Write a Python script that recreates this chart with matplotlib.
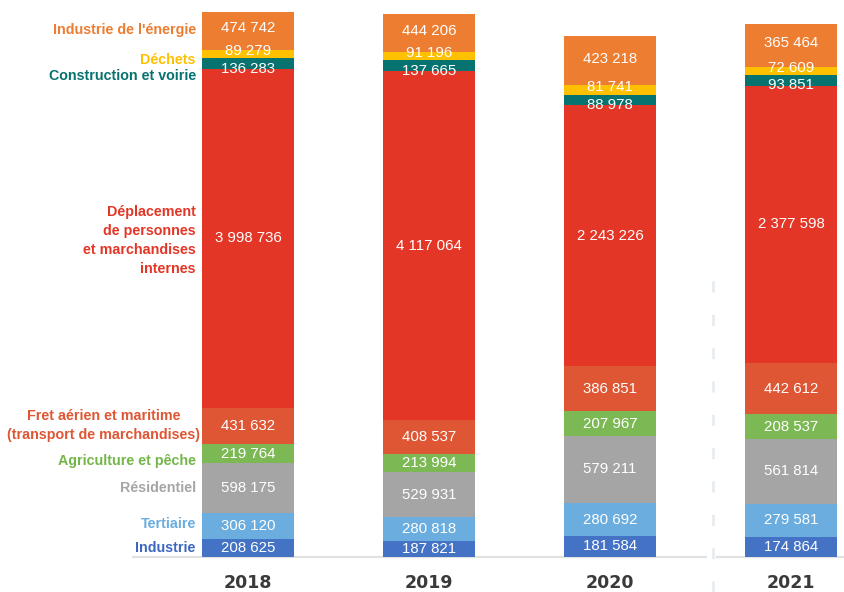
# Stacked bars: emissions by sector, 2018-2021
import numpy as np
import matplotlib.pyplot as plt
from matplotlib.lines import Line2D

# Data (bottom to top of each bar)
years = ['2018', '2019', '2020', '2021']
categories = ['Industrie', 'Tertiaire', 'Résidentiel', 'Agriculture et pêche',
              'Fret aérien et maritime\n(transport de marchandises)',
              'Déplacement\nde personnes\net marchandises\ninternes',
              'Construction et voirie', 'Déchets', "Industrie de l'énergie"]
industrie = [208625, 187821, 181584, 174864]
tertiaire = [306120, 280818, 280692, 279581]
residentiel = [598175, 529931, 579211, 561814]
agriculture = [219764, 213994, 207967, 208537]
fret = [431632, 408537, 386851, 442612]
deplacement = [3998736, 4117064, 2243226, 2377598]
construction = [136283, 137665, 88978, 93851]
dechets = [89279, 91196, 81741, 72609]
energie = [474742, 444206, 423218, 365464]

series = [industrie, tertiaire, residentiel, agriculture, fret,
          deplacement, construction, dechets, energie]
colors = ['#4472C4', '#6AADDE', '#A5A5A5', '#7CB954', '#DE5633',
          '#E33626', '#077370', '#FFC000', '#ED7D31']
text_colors = ['#3D67C0', '#6AADDE', '#A5A5A5', '#74B64A', '#DE5633',
               '#E33626', '#077370', '#FFC000', '#ED7D31']
# small vertical nudges (pixels) so texts don't collide in thin segments
value_dy = [0, 0, 0, 0, 0, 0, -5, 3, 2]
cat_dy = [0, 2, 0, -7, 0, -2, -12, -6, 0]


def fmt(v):
    return f"{v:,}".replace(',', ' ')


W, H = 845, 592
fig = plt.figure(figsize=(W / 100, H / 100), dpi=100)
ax = fig.add_axes([133 / W, 35 / H, 712 / W, 545 / H])
ax2 = ax.twinx()   # 2020-2021 drawn on their own scale, as in the original
x = np.arange(len(years))
bar_w = 0.51
xmin, xmax = -0.635, 3.298

for axis, idx, ytop in [(ax, [0, 1], 6.44e6), (ax2, [2, 3], 4.68e6)]:
    bottom = np.zeros(len(idx))
    for k, s in enumerate(series):
        vals = np.array([s[i] for i in idx], dtype=float)
        axis.bar(x[idx], vals, bar_w, bottom=bottom, color=colors[k],
                 linewidth=0, zorder=2)
        for xi, v, b in zip(x[idx], vals, bottom):
            axis.annotate(fmt(int(v)), (xi, b + v / 2), xytext=(0, value_dy[k]),
                          textcoords='offset pixels', ha='center', va='center',
                          color='white', fontsize=10.8, family='Liberation Sans',
                          zorder=5)
        bottom += vals
    axis.set_ylim(0, ytop)
    axis.set_xlim(xmin, xmax)
    axis.axis('off')

# category labels next to the 2018 bar
bottom = 0
for k, s in enumerate(series):
    v = s[0]
    dx = 4 if k == 4 else 0
    ax.annotate(categories[k], (-bar_w / 2, bottom + v / 2),
                xytext=(-6 + dx, cat_dy[k]), textcoords='offset pixels',
                ha='right', va='center', ma='center' if k == 4 else 'right',
                color=text_colors[k], fontsize=10.3, fontweight='bold',
                family='Liberation Sans', linespacing=1.45)
    bottom += v

# baseline with a small gap, and the dashed separator
ax.plot([xmin, 2.53], [0, 0], color='#e2e2e2', lw=1.6, clip_on=False, zorder=1)
ax.plot([2.59, xmax], [0, 0], color='#e2e2e2', lw=1.6, clip_on=False, zorder=1)
fig.add_artist(Line2D([713 / W, 713 / W], [0, 322 / H], color='#e6ecf0',
                      lw=2, linestyle=(0, (4, 8))))

# year labels
for xi, yr in zip(x, years):
    ax.text(xi, -26 / 545, yr, transform=ax.get_xaxis_transform(),
            ha='center', va='center', fontsize=12.5, fontweight='bold',
            color='#3a3a3a', family='DejaVu Sans')

fig.savefig('out.png', dpi=100)
